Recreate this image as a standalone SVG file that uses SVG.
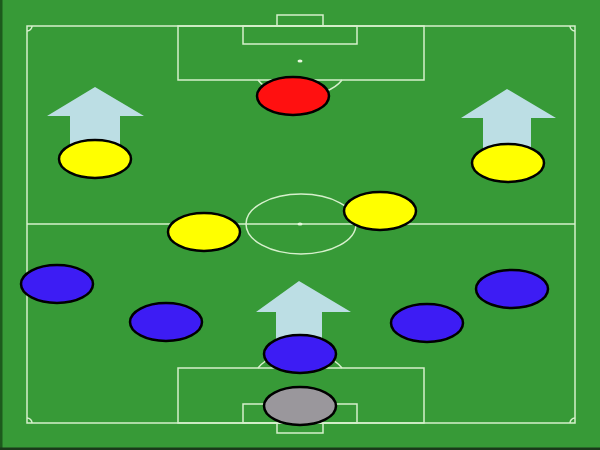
<svg xmlns="http://www.w3.org/2000/svg" width="600" height="450" viewBox="0 0 600 450">
<style>
.ln{fill:none;stroke:#d6f0cc;stroke-width:1.5}
.arrow{fill:#bcdee4}
.p{stroke:#000;stroke-width:2.5}
.y{fill:#ffff00}.b{fill:#3d1cf4}.r{fill:#ff1010}.g{fill:#9a979c}
</style>
<rect x="0" y="0" width="600" height="450" fill="#379a37"/>
<rect x="0" y="0" width="2.5" height="450" fill="#1d5a1d"/>
<rect x="0" y="447.5" width="600" height="2.5" fill="#1a3a1a"/>
<g id="pitch">
<rect class="ln" x="27" y="26" width="548" height="397"/>
<line class="ln" x1="27" y1="224" x2="575" y2="224"/>
<ellipse class="ln" cx="301" cy="224" rx="55" ry="30"/>
<ellipse cx="300" cy="224" rx="2.5" ry="1.5" fill="#e8f8e0"/>
<rect class="ln" x="178" y="26" width="246" height="54"/>
<rect class="ln" x="243" y="26" width="114" height="18"/>
<rect class="ln" x="277" y="15" width="46" height="11"/>
<ellipse cx="300" cy="61" rx="2.5" ry="1.5" fill="#e8f8e0"/>
<path class="ln" d="M258 80 A46 27 0 0 0 342 80"/>
<rect class="ln" x="178" y="368" width="246" height="55"/>
<rect class="ln" x="243" y="404" width="114" height="19"/>
<rect class="ln" x="277" y="423" width="46" height="10"/>
<path class="ln" d="M258 368 A46 27 0 0 1 342 368"/>
<path class="ln" d="M27 31 A5 5 0 0 0 32 26"/>
<path class="ln" d="M570 26 A5 5 0 0 0 575 31"/>
<path class="ln" d="M27 418 A5 5 0 0 1 32 423"/>
<path class="ln" d="M570 423 A5 5 0 0 1 575 418"/>
</g>
<g id="arrows">
<polygon id="arrow-left" class="arrow" points="95,87 144,116 120,116 120,150 70,150 70,116 47,116"/>
<polygon id="arrow-right" class="arrow" points="507,89 556,118 531,118 531,150 483,150 483,118 461,118"/>
<polygon id="arrow-center" class="arrow" points="299,281 351,312 322,312 322,345 276,345 276,312 256,312"/>
</g>
<g id="players">
<ellipse id="keeper-top" class="p r" cx="293" cy="96" rx="36" ry="19"/>
<ellipse id="yellow-1" class="p y" cx="95" cy="159" rx="36" ry="19"/>
<ellipse id="yellow-2" class="p y" cx="508" cy="163" rx="36" ry="19"/>
<ellipse id="yellow-3" class="p y" cx="204" cy="232" rx="36" ry="19"/>
<ellipse id="yellow-4" class="p y" cx="380" cy="211" rx="36" ry="19"/>
<ellipse id="blue-1" class="p b" cx="57" cy="284" rx="36" ry="19"/>
<ellipse id="blue-2" class="p b" cx="166" cy="322" rx="36" ry="19"/>
<ellipse id="blue-3" class="p b" cx="427" cy="323" rx="36" ry="19"/>
<ellipse id="blue-4" class="p b" cx="512" cy="289" rx="36" ry="19"/>
<ellipse id="blue-5" class="p b" cx="300" cy="354" rx="36" ry="19"/>
<ellipse id="keeper-bottom" class="p g" cx="300" cy="406" rx="36" ry="19"/>
</g>
</svg>
